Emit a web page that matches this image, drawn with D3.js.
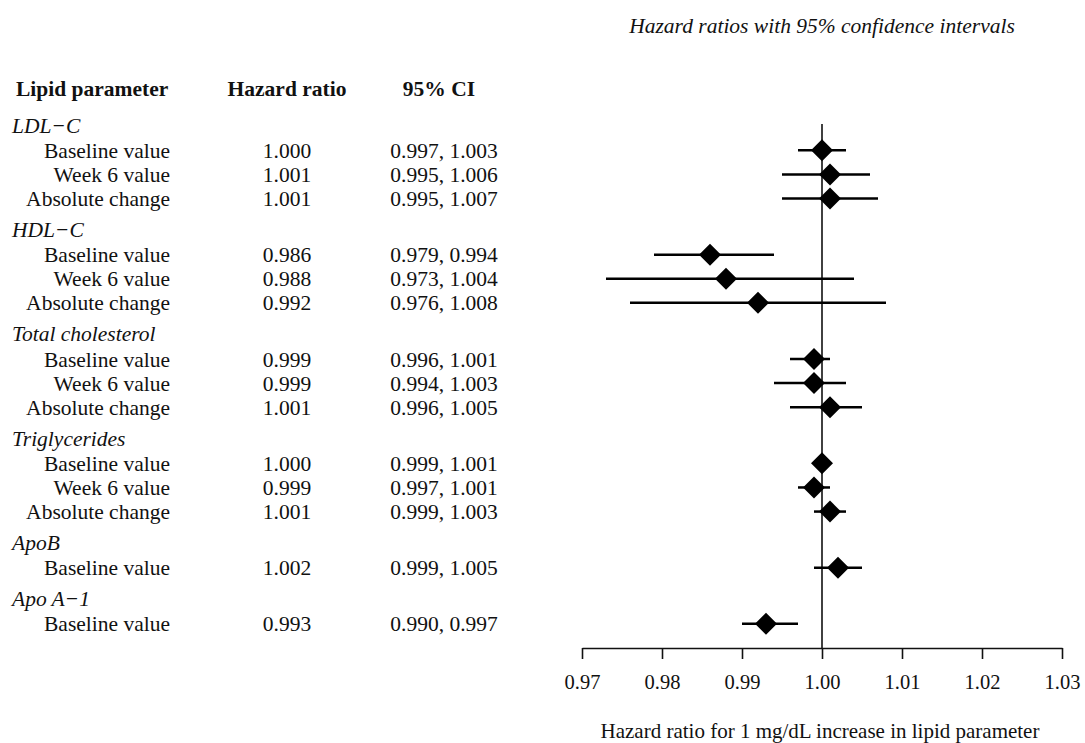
<!DOCTYPE html>
<html>
<head>
<meta charset="utf-8">
<script src="https://cdn.jsdelivr.net/npm/d3@7"></script>
<style>
  body { margin: 0; background: #fff; }
  svg text { font-family: "Liberation Serif", "Times New Roman", serif; fill: #111; }
  .axis path, .axis line { stroke: #111; stroke-width: 1.6px; }
  .axis text { font-size: 20.5px; }
</style>
</head>
<body>
<div id="chart"></div>
<script>
// group names, one per block of rows
var groups = ["LDL\u2212C", "HDL\u2212C", "Total cholesterol", "Triglycerides", "ApoB", "Apo A\u22121"];

// one entry per estimate
var rowGroup = [0, 0, 0, 1, 1, 1, 2, 2, 2, 3, 3, 3, 4, 5];
var rowLabels = ["Baseline value", "Week 6 value", "Absolute change",
                 "Baseline value", "Week 6 value", "Absolute change",
                 "Baseline value", "Week 6 value", "Absolute change",
                 "Baseline value", "Week 6 value", "Absolute change",
                 "Baseline value",
                 "Baseline value"];
var hazardRatio = [1.000, 1.001, 1.001, 0.986, 0.988, 0.992, 0.999, 0.999, 1.001, 1.000, 0.999, 1.001, 1.002, 0.993];
var ciLower =     [0.997, 0.995, 0.995, 0.979, 0.973, 0.976, 0.996, 0.994, 0.996, 0.999, 0.997, 0.999, 0.999, 0.990];
var ciUpper =     [1.003, 1.006, 1.007, 0.994, 1.004, 1.008, 1.001, 1.003, 1.005, 1.001, 1.001, 1.003, 1.005, 0.997];

var xTicks = [0.97, 0.98, 0.99, 1.00, 1.01, 1.02, 1.03];

var width = 1085,
    height = 743;

var svg = d3.select("#chart")
    .append("svg")
    .attr("width", width)
    .attr("height", height);

var x = d3.scaleLinear()
    .domain([0.97, 1.03])
    .range([582, 1062]);

// vertical layout in "row units": header -> first row, last row -> next header
var unit = 24.1, headToRow = 1.05, rowToHead = 1.28;
var lines = [], pos = 0;
groups.forEach(function(g, gi) {
  if (gi > 0) pos += rowToHead;
  lines.push({type: "head", text: g, pos: pos});
  rowGroup.forEach(function(rg, i) {
    if (rg !== gi) return;
    pos += (lines[lines.length - 1].type === "head") ? headToRow : 1;
    lines.push({type: "row", i: i, pos: pos});
  });
});

var y = d3.scaleLinear()
    .domain([0, 1])
    .range([125, 125 + unit]);

var axisY = 648;

// column headers
var head = svg.append("g").attr("font-weight", "bold").attr("font-size", "21.5px");
head.append("text").attr("x", 16).attr("y", 88).attr("dy", "0.35em").text("Lipid parameter");
head.append("text").attr("x", 287).attr("y", 88).attr("dy", "0.35em").attr("text-anchor", "middle").text("Hazard ratio");
head.append("text").attr("x", 439).attr("y", 88).attr("dy", "0.35em").attr("text-anchor", "middle").text("95% CI");

svg.append("text")
    .attr("x", x(1.00))
    .attr("y", 25)
    .attr("dy", "0.35em")
    .attr("text-anchor", "middle")
    .attr("font-style", "italic")
    .attr("font-size", "21.5px")
    .text("Hazard ratios with 95% confidence intervals");

// table text
var table = svg.append("g").attr("font-size", "21.5px");
var fmt3 = d3.format(".3f");

table.selectAll(".group-label")
    .data(lines.filter(function(d) { return d.type === "head"; }))
    .enter().append("text")
      .attr("class", "group-label")
      .attr("x", 12)
      .attr("y", function(d) { return y(d.pos); })
      .attr("dy", "0.35em")
      .attr("font-style", "italic")
      .text(function(d) { return d.text; });

var rows = lines.filter(function(d) { return d.type === "row"; });

table.selectAll(".row-label")
    .data(rows)
    .enter().append("text")
      .attr("class", "row-label")
      .attr("x", 170)
      .attr("y", function(d) { return y(d.pos); })
      .attr("dy", "0.35em")
      .attr("text-anchor", "end")
      .text(function(d) { return rowLabels[d.i]; });

table.selectAll(".hr-val")
    .data(rows)
    .enter().append("text")
      .attr("class", "hr-val")
      .attr("x", 287)
      .attr("y", function(d) { return y(d.pos); })
      .attr("dy", "0.35em")
      .attr("text-anchor", "middle")
      .text(function(d) { return fmt3(hazardRatio[d.i]); });

table.selectAll(".ci-val")
    .data(rows)
    .enter().append("text")
      .attr("class", "ci-val")
      .attr("x", 444)
      .attr("y", function(d) { return y(d.pos); })
      .attr("dy", "0.35em")
      .attr("text-anchor", "middle")
      .text(function(d) { return fmt3(ciLower[d.i]) + ", " + fmt3(ciUpper[d.i]); });

// reference line at 1
svg.append("line")
    .attr("x1", x(1)).attr("x2", x(1))
    .attr("y1", 124).attr("y2", axisY)
    .attr("stroke", "#111")
    .attr("stroke-width", 1.6);

// confidence intervals
svg.selectAll(".ci")
    .data(rows)
    .enter().append("line")
      .attr("class", "ci")
      .attr("x1", function(d) { return x(ciLower[d.i]); })
      .attr("x2", function(d) { return x(ciUpper[d.i]); })
      .attr("y1", function(d) { return y(d.pos); })
      .attr("y2", function(d) { return y(d.pos); })
      .attr("stroke", "#000")
      .attr("stroke-width", 2.5);

// point estimates
var r = 11;
svg.selectAll(".est")
    .data(rows)
    .enter().append("path")
      .attr("class", "est")
      .attr("transform", function(d) { return "translate(" + x(hazardRatio[d.i]) + "," + y(d.pos) + ")"; })
      .attr("d", "M0," + (-r) + "L" + r + ",0L0," + r + "L" + (-r) + ",0Z")
      .attr("fill", "#000");

// x axis
svg.append("g")
    .attr("class", "axis")
    .attr("transform", "translate(0," + axisY + ")")
    .call(d3.axisBottom(x)
      .tickValues(xTicks)
      .tickFormat(d3.format(".2f"))
      .tickSize(11)
      .tickSizeOuter(0)
      .tickPadding(15));

svg.select(".axis").selectAll("text").attr("fill", "#111").attr("font-family", null);

svg.append("text")
    .attr("x", x(1.00) - 2)
    .attr("y", 731)
    .attr("dy", "0.35em")
    .attr("text-anchor", "middle")
    .attr("font-size", "21px")
    .text("Hazard ratio for 1 mg/dL increase in  lipid parameter");
</script>
</body>
</html>
